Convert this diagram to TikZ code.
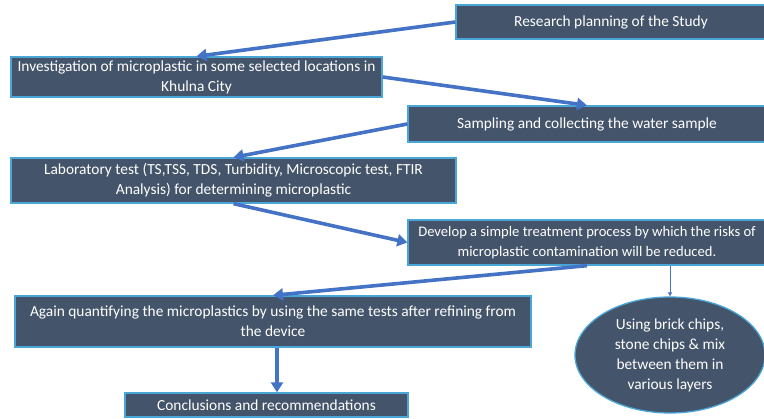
\documentclass[tikz,border=0pt]{standalone}
\usepackage{fontspec}
\setmainfont{Carlito}
\usetikzlibrary{arrows.meta,shapes.geometric}
\definecolor{boxfill}{HTML}{44546A}
\definecolor{boxborder}{HTML}{4BA6D8}
\definecolor{arrowblue}{HTML}{4472C4}
\tikzset{
  box/.style={draw=boxborder, fill=boxfill, line width=1.3pt, text=white, align=center,
    inner sep=0pt, font=\fontsize{15.4}{20}\selectfont},
  bigarrow/.style={draw=arrowblue, line width=3.6pt, -{Triangle[width=12pt,length=10pt]}},
  thinarrow/.style={draw=arrowblue, line width=0.9pt, -{Triangle[width=4pt,length=4pt]}}
}
\begin{document}
\begin{tikzpicture}[x=1pt,y=-1pt]
\useasboundingbox (0,0) rectangle (764,419);
\node[box, minimum width=310pt, minimum height=34pt] (b1) at (611,22) {Research planning of the Study};
\node[box, minimum width=371pt, minimum height=40pt] (b2) at (196.5,77) {Investigation of microplastic in some selected locations in\\Khulna City};
\node[box, minimum width=358pt, minimum height=36pt] (b3) at (587,124) {Sampling and collecting the water sample};
\node[box, minimum width=445pt, minimum height=45pt] (b4) at (233.5,180.5) {Laboratory test (TS,TSS, TDS, Turbidity, Microscopic test, FTIR\\Analysis) for determining microplastic};
\node[box, minimum width=358pt, minimum height=45pt, font=\fontsize{14.6}{20}\selectfont] (b5) at (587,242.5) {Develop a simple treatment process by which the risks of\\microplastic contamination will be reduced.};
\node[box, minimum width=516pt, minimum height=51pt] (b6) at (273,321.5) {Again quantifying the microplastics by using the same tests after refining from\\the device};
\node[box, minimum width=283pt, minimum height=24pt] (b7) at (266.5,405) {Conclusions and recommendations};
\node[box, ellipse, minimum width=190pt, minimum height=116pt] (el) at (670,355) {Using brick chips,\\stone chips \& mix\\between them in\\various layers};
\draw[bigarrow] (b1.west) -- (b2.north);
\draw[bigarrow] (b2.east) -- (b3.north);
\draw[bigarrow] (b3.west) -- (b4.north);
\draw[bigarrow] (b4.south) -- (b5.west);
\draw[bigarrow] (b5.south) -- (b6.north);
\draw[bigarrow] ([xshift=4pt]b6.south) -- ([xshift=4pt]b6.south |- b7.north);
\draw[thinarrow] (el.north |- b5.south) -- (el.north);
\end{tikzpicture}
\end{document}
